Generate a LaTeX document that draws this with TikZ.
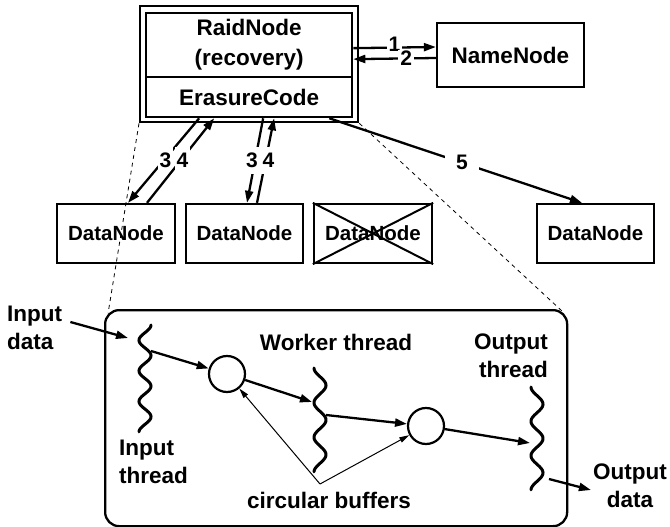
\documentclass[tikz,border=0pt]{standalone}
\usepackage{fontspec}
\setmainfont{Liberation Sans}
\usetikzlibrary{arrows.meta}
\newcommand\fBig{\fontsize{22.5}{28}\selectfont\bfseries}
\newcommand\fRaid{\fontsize{22.5}{30}\selectfont\bfseries}
\newcommand\fDn{\fontsize{20.5}{24}\selectfont\bfseries}
\newcommand\fNum{\fontsize{21}{24}\selectfont\bfseries}
\begin{document}
\begin{tikzpicture}[x=1pt,y=-1pt,
  box/.style={draw, line width=2.3pt, inner sep=0pt, align=center, font=\fBig},
  dbox/.style={box, minimum width=117pt, minimum height=59pt, font=\fDn},
  arr/.style={line width=2.3pt, -{Triangle[length=12pt,width=8pt]}},
  tarr/.style={line width=1pt, -{Triangle[length=10pt,width=5.5pt]}},
  lbl/.style={fill=white, inner xsep=2pt, inner ysep=6pt, font=\fNum},
  hlbl/.style={fill=white, inner xsep=2pt, inner ysep=1pt, font=\fNum},
  dsh/.style={line width=0.8pt, dash pattern=on 4pt off 4pt},
  thr/.style={line width=3pt, line cap=round},
  txt/.style={font=\fBig, inner sep=2pt}]
\useasboundingbox (0,0) rectangle (670,527);

% top part
\node[box, minimum width=218pt, minimum height=116pt, anchor=north west] (outer) at (139,5) {};
\node[box, font=\fRaid, minimum width=206pt, minimum height=64pt, anchor=north west] (raid) at (145,12) {RaidNode\\(recovery)};
\node[box, minimum width=206pt, minimum height=40pt, anchor=north west] (ec) at (145,76) {ErasureCode};
\node[box, minimum width=147pt, minimum height=64pt] (name) at (510.5,55) {NameNode};

\node[dbox, minimum width=118pt] (d1) at (116,233.5) {DataNode};
\node[dbox] (d2) at (244.5,233.5) {DataNode};
\node[dbox, minimum width=118pt] (d3) at (373,233.5) {DataNode};
\node[dbox] (d4) at (595.5,233.5) {DataNode};
\draw[line width=2pt] (d3.north west) -- (d3.south east) (d3.south west) -- (d3.north east);

\draw[arr] ([yshift=-3pt]raid.east) -- node[hlbl, pos=0.5, yshift=3pt]{1} ([yshift=8pt]name.west);
\draw[arr] ([yshift=-3pt]name.west) -- node[hlbl, pos=0.36]{2} ([yshift=-14pt]raid.east);

\draw[arr] ([xshift=-50pt]ec.south) -- node[lbl, xshift=2pt]{3} ([xshift=12pt]d1.north);
\draw[arr] ([xshift=31pt]d1.north) -- node[lbl, xshift=2pt]{4} ([xshift=-35pt]ec.south);
\draw[arr] ([xshift=14pt]ec.south) -- node[lbl, xshift=-3pt]{3} ([xshift=2.5pt]d2.north);
\draw[arr] ([xshift=12.5pt]d2.north) -- node[lbl, xshift=3pt]{4} ([xshift=25pt]ec.south);
\draw[arr] ([xshift=-24pt]ec.south east) -- node[lbl, inner ysep=3pt, minimum width=34pt, pos=0.525]{5} ([xshift=-13.5pt]d4.north);

% lower panel
\node[draw, line width=2.3pt, rounded corners=14pt, minimum width=462pt, minimum height=216pt, anchor=north west] (panel) at (104,309) {};
\draw[dsh] (outer.south west) -- ([xshift=4.1pt,yshift=-4.1pt]panel.north west);
\draw[dsh] (outer.south east) -- ([xshift=-4.1pt,yshift=-4.1pt]panel.north east);

\draw[thr] plot[domain=0:1, samples=120, smooth] ({145+6*cos(1260*\x)},{325+107*\x});
\draw[thr] plot[domain=0:1, samples=120, smooth] ({320-6*cos(1080*\x)},{368+104*\x});
\draw[thr] plot[domain=0:1, samples=120, smooth] ({537-6*cos(1080*\x)},{387+103*\x});

\coordinate (t1i) at (128,338);
\coordinate (t1o) at (151,351);
\coordinate (t2i) at (312,402);
\coordinate (t2o) at (326,415);
\coordinate (t3i) at (530,443);
\coordinate (t3o) at (549,479);
\coordinate (cb) at (320,484);

\node[circle, draw, line width=2.2pt, minimum size=36pt, inner sep=0pt] (c1) at (227,374) {};
\node[circle, draw, line width=2.2pt, minimum size=36pt, inner sep=0pt] (c2) at (426,426) {};

\node[txt, align=left, anchor=west] (indata) at (5,328) {Input\\data};
\node[txt, align=left, anchor=west] (inthr) at (117,462) {Input\\thread};
\node[txt] (wthr) at (336,342) {Worker thread};
\node[txt, align=right, anchor=east] (othr) at (550,356) {Output\\thread};
\node[txt, align=center] (outdata) at (630,486) {Output\\data};
\node[txt] (cbuf) at (329,500) {circular buffers};

\draw[arr] ([xshift=6pt,yshift=6pt]indata.east) -- (t1i);
\draw[arr] (t1o) -- (c1);
\draw[arr] (c1) -- (t2i);
\draw[arr] (t2o) -- (c2);
\draw[arr] (c2) -- (t3i);
\draw[arr] (t3o) -- ([yshift=-4pt]outdata.west);
\draw[tarr] (cb) -- (c1);
\draw[tarr] (cb) -- (c2);
\end{tikzpicture}
\end{document}
